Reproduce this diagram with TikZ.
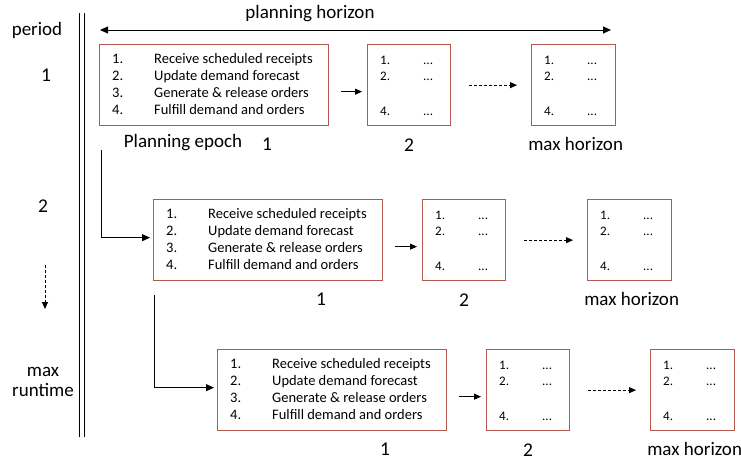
\documentclass[tikz,border=0pt]{standalone}
\usepackage{fontspec}
\setmainfont{Carlito}
\usetikzlibrary{arrows.meta,calc}
\definecolor{boxred}{RGB}{184,86,80}
\tikzset{
  box/.style={draw=boxred, line width=1.3pt, inner sep=0pt, anchor=north west, fill=white, minimum height=81pt},
  itm/.style={font=\fontsize{14.5}{16}\selectfont, anchor=west, inner sep=0pt, text height=1.6ex, text depth=0.4ex},
  sitm/.style={font=\fontsize{13}{15}\selectfont, anchor=west, inner sep=0pt, text height=1.6ex, text depth=0.4ex},
  lbl/.style={font=\fontsize{19}{21}\selectfont, inner sep=0pt},
  numlbl/.style={font=\fontsize{19.5}{21}\selectfont, inner sep=0pt},
  arr/.style={-{Triangle[length=8pt,width=7pt]}, line width=0.9pt},
  sarr/.style={-{Triangle[length=7pt,width=6pt]}, line width=0.8pt},
  darr/.style={-{Triangle[length=7pt,width=6pt]}, line width=0.8pt, dash pattern=on 3pt off 2pt},
}
% #1 name, #2 x big box, #3 y top, #4 x second box, #5 x max box
\newcommand\planrow[5]{%
  \node[box, minimum width=229pt] (#1big) at (#2,#3) {};
  \foreach \n/\t [count=\i from 0] in {1./Receive scheduled receipts, 2./Update demand forecast, 3./Generate \& release orders, 4./Fulfill demand and orders}{%
    \node[itm] (#1n\i) at ($(#1big.north west)+(13,16.5+17*\i)$) {\n};
    \node[itm] (#1t\i) at ($(#1big.north west)+(55,16.5+17*\i)$) {\t};
  }
  \node[box, minimum width=83pt] (#1two) at (#4,#3) {};
  \node[box, minimum width=84pt] (#1max) at (#5,#3) {};
  \foreach \b in {two,max}{%
    \foreach \n/\dy in {1./18, 2./34, 4./69}{%
      \node[sitm] (#1\b n\n) at ($(#1\b.north west)+(13,\dy)$) {\n};
      \node[sitm] (#1\b d\n) at ($(#1\b.north west)+(56,\dy)$) {...};
    }
  }
  \draw[sarr] ([xshift=12pt,yshift=-6.5pt]#1big.east) -- ([xshift=-5pt,yshift=-6.5pt]#1two.west);
  \draw[darr] ([xshift=18pt]#1two.east) -- ([xshift=-14pt]#1max.west);
  \node[numlbl] (#1lone) at ($(#1big.south west)+(168,18)$) {1};
  \node[numlbl] (#1ltwo) at ($(#1two.south)+(0,18.5)$) {2};
  \node[lbl] (#1lmax) at ($(#1max.south)+(2,18)$) {max horizon};
}
\begin{document}
\begin{tikzpicture}[x=1pt,y=-1pt]
\useasboundingbox (0,0) rectangle (741,461);
% time axis (double line)
\draw[line width=1pt] (79,13) -- (79,437);
\draw[line width=1pt] (84,13) -- (84,437);
% period column
\node[lbl] (period) at (37,30) {period};
\node[numlbl] (p1) at (46,75) {1};
\node[numlbl] (p2) at (43,206) {2};
\coordinate (pd1) at (45,265);
\coordinate (pd2) at (45,309);
\draw[darr] (pd1) -- (pd2);
\node[lbl, align=center] (pmax) at (43,382) {max\\[-1pt]runtime};
% planning horizon
\coordinate (ph1) at (100,30);
\coordinate (ph2) at (611,30);
\draw[{Triangle[length=8pt,width=7pt]}-{Triangle[length=8pt,width=7pt]}, line width=0.9pt] (ph1) -- (ph2);
\node[lbl] (phl) at (310,14) {planning horizon};
% rows
\planrow{ra}{99}{44}{367}{531}
\planrow{rb}{153}{199}{422}{587}
\planrow{rc}{217}{349}{486}{650}
\node[lbl] (epoch) at (183,143) {Planning epoch};
% connectors between periods
\coordinate (c1) at (101,150);
\draw[arr] (c1) |- ([xshift=-3pt,yshift=2.5pt]rbbig.west);
\coordinate (c2) at (154,295);
\draw[arr] (c2) |- ([xshift=-3pt,yshift=2.5pt]rcbig.west);
\end{tikzpicture}
\end{document}
